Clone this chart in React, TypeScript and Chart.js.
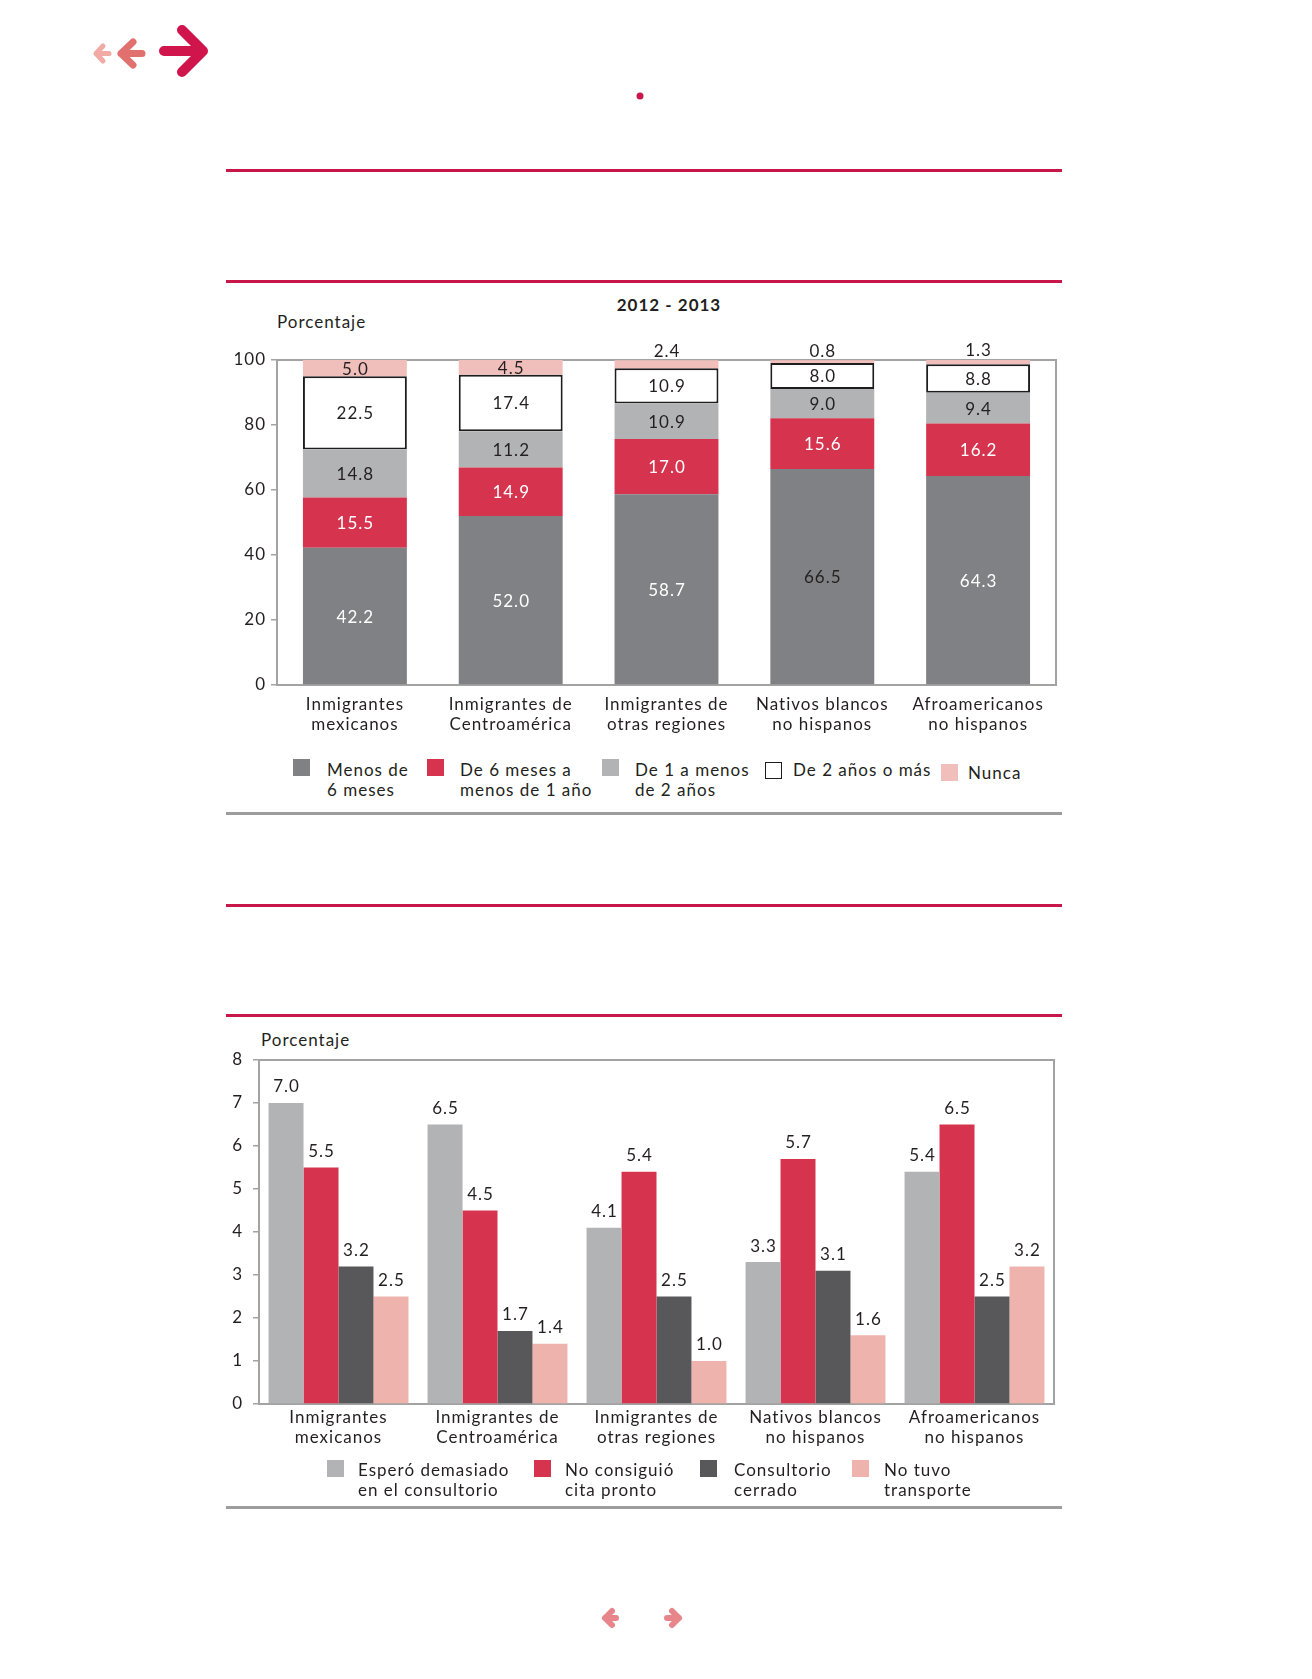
import React, { useEffect, useRef } from "react";
import { Chart, registerables } from "chart.js";
Chart.register(...registerables);

// ---------- DATA ----------
const categories: string[][] = [
  ["Inmigrantes", "mexicanos"],
  ["Inmigrantes de", "Centroamérica"],
  ["Inmigrantes de", "otras regiones"],
  ["Nativos blancos", "no hispanos"],
  ["Afroamericanos", "no hispanos"],
];

const chart1Title = "2012 - 2013";
const yAxisTitle = "Porcentaje";

const stackLabels: string[][] = [
  ["Menos de", "6 meses"],
  ["De 6 meses a", "menos de 1 año"],
  ["De 1 a menos", "de 2 años"],
  ["De 2 años o más"],
  ["Nunca"],
];
const menos6Meses = [42.2, 52.0, 58.7, 66.5, 64.3];
const de6MesesA1Anio = [15.5, 14.9, 17.0, 15.6, 16.2];
const de1A2Anios = [14.8, 11.2, 10.9, 9.0, 9.4];
const de2AniosOMas = [22.5, 17.4, 10.9, 8.0, 8.8];
const nunca = [5.0, 4.5, 2.4, 0.8, 1.3];
const yTicks1 = [0, 20, 40, 60, 80, 100];

const reasonLabels: string[][] = [
  ["Esperó demasiado", "en el consultorio"],
  ["No consiguió", "cita pronto"],
  ["Consultorio", "cerrado"],
  ["No tuvo", "transporte"],
];
const esperoDemasiado = [7.0, 6.5, 4.1, 3.3, 5.4];
const noConsiguioCita = [5.5, 4.5, 5.4, 5.7, 6.5];
const consultorioCerrado = [3.2, 1.7, 2.5, 3.1, 2.5];
const noTuvoTransporte = [2.5, 1.4, 1.0, 1.6, 3.2];
const yTicks2 = [0, 1, 2, 3, 4, 5, 6, 7, 8];

// ---------- STYLE ----------
const FONT = "Lato, 'Open Sans', sans-serif";
const TEXT = "#231f20";
const FRAME = "#a3a3a3";
const CRIMSON = "#c8174b";
const SPACING = "1px";
const c1 = ["#808184", "#d6344e", "#b2b3b5", "#ffffff", "#f1bfbb"];
const c2 = ["#b2b3b5", "#d6344e", "#58585a", "#efb3ad"];

const spacingPlugin = {
  id: "spacing",
  beforeUpdate(chart: any) {
    (chart.ctx as any).letterSpacing = SPACING;
  },
  beforeDraw(chart: any) {
    (chart.ctx as any).letterSpacing = SPACING;
  },
};

const framePlugin = {
  id: "frame",
  beforeDatasetsDraw(chart: any) {
    const { ctx, chartArea: a } = chart;
    ctx.save();
    ctx.strokeStyle = FRAME;
    ctx.lineWidth = 2;
    ctx.strokeRect(a.left, a.top, a.right - a.left, a.bottom - a.top);
    ctx.restore();
  },
};

const stackLabelPlugin = {
  id: "stackLabels",
  afterDatasetsDraw(chart: any) {
    const ctx = chart.ctx;
    ctx.save();
    ctx.letterSpacing = SPACING;
    ctx.font = `17px ${FONT}`;
    ctx.textAlign = "center";
    ctx.textBaseline = "middle";
    chart.data.datasets.forEach((ds: any, di: number) => {
      const meta = chart.getDatasetMeta(di);
      meta.data.forEach((el: any, i: number) => {
        const v = ds.data[i];
        let y = (el.y + el.base) / 2;
        if (di === 4 && v < 3) y = el.y - 10;
        let color = TEXT;
        if (di === 1 || (di === 0 && i !== 3)) color = "#ffffff";
        ctx.fillStyle = color;
        ctx.fillText(v.toFixed(1), el.x + 0.5, y + 1);
      });
    });
    ctx.restore();
  },
};

const groupLabelPlugin = {
  id: "groupLabels",
  afterDatasetsDraw(chart: any) {
    const ctx = chart.ctx;
    ctx.save();
    ctx.letterSpacing = SPACING;
    ctx.font = `17px ${FONT}`;
    ctx.textAlign = "center";
    ctx.textBaseline = "middle";
    ctx.fillStyle = TEXT;
    chart.data.datasets.forEach((ds: any, di: number) => {
      const meta = chart.getDatasetMeta(di);
      meta.data.forEach((el: any, i: number) => {
        ctx.fillText(ds.data[i].toFixed(1), el.x + 0.5, el.y - 16);
      });
    });
    ctx.restore();
  },
};

function StackedChart() {
  const ref = useRef<HTMLCanvasElement>(null);
  useEffect(() => {
    const series = [menos6Meses, de6MesesA1Anio, de1A2Anios, de2AniosOMas, nunca];
    const chart = new Chart(ref.current as HTMLCanvasElement, {
      type: "bar",
      data: {
        labels: categories,
        datasets: series.map((d, i) => ({
          label: stackLabels[i].join(" "),
          data: d,
          backgroundColor: c1[i],
          borderColor: i === 3 ? "#1d1d1d" : c1[i],
          borderWidth: i === 3 ? 2 : 0,
          borderSkipped: false,
          categoryPercentage: 0.667,
          barPercentage: 1,
        })),
      },
      options: {
        responsive: false,
        animation: false,
        layout: { padding: { left: 0, right: 14, top: 30, bottom: 0 } },
        plugins: { legend: { display: false }, tooltip: { enabled: false }, title: { display: false } },
        scales: {
          x: {
            stacked: true,
            grid: { display: false, drawTicks: false },
            border: { display: false },
            ticks: { color: TEXT, font: { family: FONT, size: 17, lineHeight: 1.2 }, padding: 9, maxRotation: 0, autoSkip: false },
            afterFit: (s: any) => { s.height = 65; },
          },
          y: {
            stacked: true,
            min: yTicks1[0],
            max: yTicks1[yTicks1.length - 1],
            grid: { drawOnChartArea: false, drawTicks: true, tickLength: 6, color: FRAME, lineWidth: 1.5 },
            border: { display: true, color: FRAME, width: 2 },
            ticks: { stepSize: yTicks1[1] - yTicks1[0], color: TEXT, font: { family: FONT, size: 17 }, padding: 5 },
            afterFit: (s: any) => { s.width = 87; },
          },
        },
      },
      plugins: [spacingPlugin, framePlugin, stackLabelPlugin],
    } as any);
    return () => chart.destroy();
  }, []);
  return (
    <canvas ref={ref} width={880} height={420}
      style={{ position: "absolute", left: 190, top: 330, width: 880, height: 420 }} />
  );
}

function GroupedChart() {
  const ref = useRef<HTMLCanvasElement>(null);
  useEffect(() => {
    const series = [esperoDemasiado, noConsiguioCita, consultorioCerrado, noTuvoTransporte];
    const chart = new Chart(ref.current as HTMLCanvasElement, {
      type: "bar",
      data: {
        labels: categories,
        datasets: series.map((d, i) => ({
          label: reasonLabels[i].join(" "),
          data: d,
          backgroundColor: c2[i],
          borderWidth: 0,
          categoryPercentage: 0.88,
          barPercentage: 1,
        })),
      },
      options: {
        responsive: false,
        animation: false,
        layout: { padding: { left: 0, right: 16, top: 25, bottom: 0 } },
        plugins: { legend: { display: false }, tooltip: { enabled: false }, title: { display: false } },
        scales: {
          x: {
            grid: { display: false, drawTicks: false },
            border: { display: false },
            ticks: { color: TEXT, font: { family: FONT, size: 17, lineHeight: 1.2 }, padding: 3, maxRotation: 0, autoSkip: false },
            afterFit: (s: any) => { s.height = 56; },
          },
          y: {
            min: yTicks2[0],
            max: yTicks2[yTicks2.length - 1],
            grid: { drawOnChartArea: false, drawTicks: true, tickLength: 6, color: FRAME, lineWidth: 1.5 },
            border: { display: true, color: FRAME, width: 2 },
            ticks: { stepSize: yTicks2[1] - yTicks2[0], color: TEXT, font: { family: FONT, size: 17 }, padding: 10 },
            afterFit: (s: any) => { s.width = 79; },
          },
        },
      },
      plugins: [spacingPlugin, framePlugin, groupLabelPlugin],
    } as any);
    return () => chart.destroy();
  }, []);
  return (
    <canvas ref={ref} width={890} height={425}
      style={{ position: "absolute", left: 180, top: 1035, width: 890, height: 425 }} />
  );
}

const abs = (s: React.CSSProperties): React.CSSProperties => ({ position: "absolute", ...s });
const textStyle: React.CSSProperties = { fontFamily: FONT, fontSize: 17, color: TEXT, lineHeight: "20px", whiteSpace: "nowrap", letterSpacing: SPACING };

function LegendItem({ sx, sy, tx, ty, color, outline, lines }: any) {
  return (
    <>
      <div style={abs({ left: sx, top: sy, width: 17, height: 17, boxSizing: "border-box", background: color, border: outline ? "1.5px solid #1d1d1d" : "none" })} />
      <div style={abs({ left: tx, top: ty, ...textStyle })}>
        {lines.map((l: string, i: number) => <div key={i}>{l}</div>)}
      </div>
    </>
  );
}

function Rule({ y, color, h = 3 }: { y: number; color: string; h?: number }) {
  return <div style={abs({ left: 226, top: y - h / 2, width: 836, height: h, background: color })} />;
}

export default function App() {
  return (
    <div style={abs({ left: 0, top: 0, width: 1312, height: 1679, background: "#fff", overflow: "hidden" })}>
      <svg width={1312} height={1679} style={abs({ left: 0, top: 0 })}>
        <g fill="none" strokeLinecap="round" strokeLinejoin="round">
          <path d="M96 53.5 L103 46 M96 53.5 L103 61 M96 53.5 L109 53.5" stroke="#f2aaa5" strokeWidth={5} />
          <path d="M121 53.5 L133 42 M121 53.5 L133 65 M121 53.5 L142 53.5" stroke="#e0716f" strokeWidth={7} />
          <path d="M203 51 L182 30 M203 51 L182 72 M164 51 L203 51" stroke="#d0144c" strokeWidth={10} />
          <path d="M605 1618 L612 1611 M605 1618 L612 1625 M605 1618 L616 1618" stroke="#e8858a" strokeWidth={6} />
          <path d="M679 1618 L672 1611 M679 1618 L672 1625 M679 1618 L667 1618" stroke="#e8858a" strokeWidth={6} />
        </g>
        <circle cx={640} cy={96} r={3.5} fill="#c8174b" />
      </svg>

      <Rule y={170} color={CRIMSON} />
      <Rule y={281} color={CRIMSON} />
      <Rule y={813} color="#9d9d9d" />
      <Rule y={905} color={CRIMSON} />
      <Rule y={1015} color={CRIMSON} />
      <Rule y={1507} color="#9d9d9d" />

      <div style={abs({ left: 569, width: 200, top: 295, textAlign: "center", ...textStyle, fontWeight: 700 })}>{chart1Title}</div>
      <div style={abs({ left: 277, top: 312, ...textStyle })}>{yAxisTitle}</div>
      <StackedChart />
      <LegendItem sx={293} sy={759} tx={327} ty={760} color={c1[0]} lines={stackLabels[0]} />
      <LegendItem sx={427} sy={759} tx={460} ty={760} color={c1[1]} lines={stackLabels[1]} />
      <LegendItem sx={602} sy={759} tx={635} ty={760} color={c1[2]} lines={stackLabels[2]} />
      <LegendItem sx={765} sy={762} tx={793} ty={760} color={c1[3]} outline lines={stackLabels[3]} />
      <LegendItem sx={941} sy={764} tx={968} ty={763} color={c1[4]} lines={stackLabels[4]} />

      <div style={abs({ left: 261, top: 1030, ...textStyle })}>{yAxisTitle}</div>
      <GroupedChart />
      <LegendItem sx={327} sy={1460} tx={358} ty={1460} color={c2[0]} lines={reasonLabels[0]} />
      <LegendItem sx={534} sy={1460} tx={565} ty={1460} color={c2[1]} lines={reasonLabels[1]} />
      <LegendItem sx={700} sy={1460} tx={734} ty={1460} color={c2[2]} lines={reasonLabels[2]} />
      <LegendItem sx={852} sy={1460} tx={884} ty={1460} color={c2[3]} lines={reasonLabels[3]} />
    </div>
  );
}
